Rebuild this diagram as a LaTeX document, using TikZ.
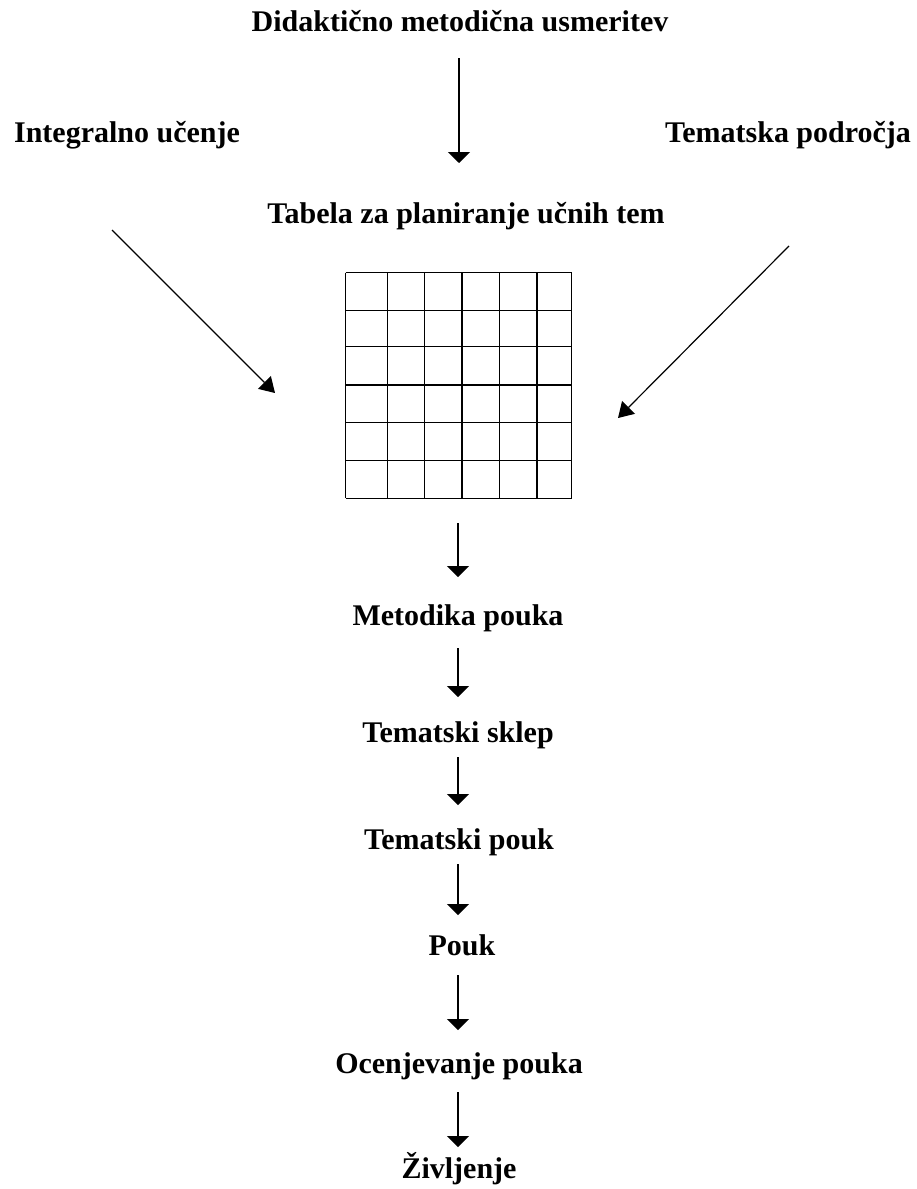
\documentclass[tikz,border=0pt]{standalone}
\usepackage{fontspec}
\setmainfont{Liberation Serif}
\usetikzlibrary{arrows.meta}
\begin{document}
\begin{tikzpicture}[x=1pt,y=-1pt,
  lbl/.style={anchor=base,inner sep=0pt,font=\fontsize{30}{36}\selectfont\bfseries},
  arr/.style={line width=1.3pt,-{Triangle[width=22pt,length=11pt]}},
  darr/.style={line width=1.2pt,-{Triangle[width=18pt,length=15pt]}},
  gridline/.style={line width=1.2pt}]
\useasboundingbox (0,0) rectangle (917,1189);
% labels
\node[lbl] (didak) at (460,31) {Didaktično metodična usmeritev};
\node[lbl] (integ) at (127,142) {Integralno učenje};
\node[lbl] (temat) at (788,142) {Tematska področja};
\node[lbl] (tabela) at (466,223) {Tabela za planiranje učnih tem};
\node[lbl] (metod) at (458,625) {Metodika pouka};
\node[lbl] (sklep) at (458,742) {Tematski sklep};
\node[lbl] (tpouk) at (459,849) {Tematski pouk};
\node[lbl] (pouk) at (462,955) {Pouk};
\node[lbl] (ocen) at (459,1073) {Ocenjevanje pouka};
\node[lbl] (zivl) at (459,1178) {Življenje};
% grid
\node[inner sep=0pt,minimum width=226pt,minimum height=225.6pt] (grid) at (458.7,385.5) {};
\foreach \x in {345.7,387.3,424.7,462,499.3,537,571.7}
  \draw[gridline] (\x,272.7) -- (\x,498.3);
\foreach \y in {272.7,310.3,346.3,385,422.7,460.7,498.3}
  \draw[gridline] (345.7,\y) -- (571.7,\y);
% connector end points
\coordinate (a0s) at (459,58);   \coordinate (a0e) at (459,163);
\coordinate (dls) at (112,230);  \coordinate (dle) at (275,393);
\coordinate (drs) at (789,246);  \coordinate (dre) at (618,418);
\coordinate (a1s) at (458,523);  \coordinate (a1e) at (458,577);
\coordinate (a2s) at (458,648);  \coordinate (a2e) at (458,697);
\coordinate (a3s) at (458,757);  \coordinate (a3e) at (458,805);
\coordinate (a4s) at (458,864);  \coordinate (a4e) at (458,915);
\coordinate (a5s) at (458,975);  \coordinate (a5e) at (458,1030);
\coordinate (a6s) at (458,1092); \coordinate (a6e) at (458,1147);
% connectors
\draw[arr] (a0s) -- (a0e);
\draw[darr] (dls) -- (dle);
\draw[darr] (drs) -- (dre);
\draw[arr] (a1s) -- (a1e);
\draw[arr] (a2s) -- (a2e);
\draw[arr] (a3s) -- (a3e);
\draw[arr] (a4s) -- (a4e);
\draw[arr] (a5s) -- (a5e);
\draw[arr] (a6s) -- (a6e);
\end{tikzpicture}
\end{document}
